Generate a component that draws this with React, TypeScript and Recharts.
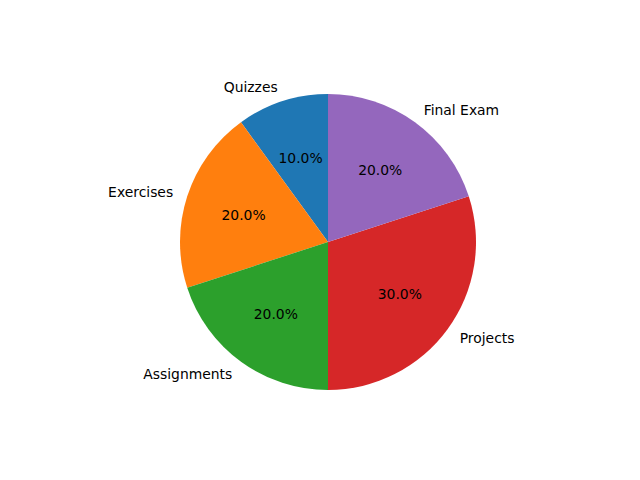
import React from "react"
import { Pie, PieChart, Cell } from "recharts"

const categories = ["Quizzes", "Exercises", "Assignments", "Projects", "Final Exam"]
const weights = [10, 20, 20, 30, 20]
const colors = ["#1f77b4", "#ff7f0e", "#2ca02c", "#d62728", "#9467bd"]

const data = categories.map((name, i) => ({ name, value: weights[i] }))

const RADIAN = Math.PI / 180
const total = weights.reduce((a, b) => a + b, 0)

function renderLabel(props: any) {
  const { cx, cy, midAngle, outerRadius, index } = props
  const cos = Math.cos(-midAngle * RADIAN)
  const sin = Math.sin(-midAngle * RADIAN)
  const lx = cx + outerRadius * 1.1 * cos
  const ly = cy + outerRadius * 1.1 * sin
  const px = cx + outerRadius * 0.6 * cos
  const py = cy + outerRadius * 0.6 * sin
  const pct = ((weights[index] / total) * 100).toFixed(1) + "%"
  return (
    <g>
      <text
        x={lx}
        y={ly}
        textAnchor={cos >= 0 ? "start" : "end"}
        dominantBaseline="central"
        fill="#000"
        fontSize={13.9}
        fontFamily="DejaVu Sans"
      >
        {categories[index]}
      </text>
      <text
        x={px}
        y={py}
        textAnchor="middle"
        dominantBaseline="central"
        fill="#000"
        fontSize={13.9}
        fontFamily="DejaVu Sans"
      >
        {pct}
      </text>
    </g>
  )
}

export default function App() {
  return (
    <div style={{ position: "absolute", left: 0, top: 0, width: 640, height: 480, background: "#fff" }}>
      <PieChart width={640} height={480} margin={{ top: 0, right: 0, bottom: 0, left: 0 }}>
        <Pie
          data={data}
          dataKey="value"
          nameKey="name"
          cx={328}
          cy={242}
          outerRadius={148}
          startAngle={90}
          endAngle={450}
          stroke="none"
          label={renderLabel}
          labelLine={false}
          isAnimationActive={false}
        >
          {data.map((entry, i) => (
            <Cell key={entry.name} fill={colors[i]} />
          ))}
        </Pie>
      </PieChart>
    </div>
  )
}
